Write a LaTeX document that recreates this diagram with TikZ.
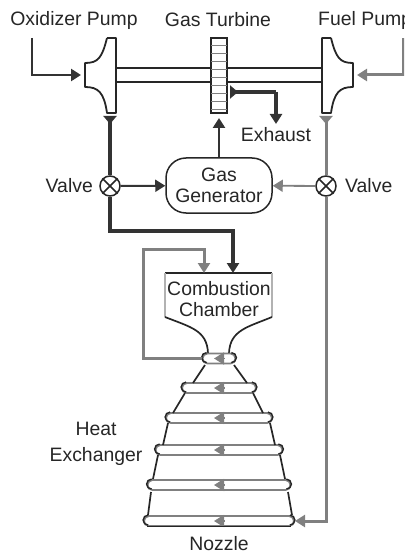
\documentclass[tikz,border=0pt]{standalone}
\usepackage{fontspec}
\setmainfont{Liberation Sans}
\usetikzlibrary{arrows.meta, positioning, shapes.misc}

\definecolor{oxline}{gray}{0.2}
\definecolor{fuelline}{gray}{0.5}

\begin{document}
\begin{tikzpicture}[
  x=1pt, y=-1pt,
  label/.style    = {inner sep=0pt, font=\fontsize{19.4}{21}\selectfont, align=center, text=black!85},
  pumpline/.style = {draw=black!85, line width=1.8pt, line join=round},
  genbox/.style   = {rectangle, rounded corners=20pt, draw=black!85, line width=1.5pt,
                     minimum width=106pt, minimum height=55pt, inner sep=0pt},
  valve/.style    = {circle, draw=black!85, line width=1.5pt, minimum size=20pt, inner sep=0pt},
  ring/.style     = {rectangle, rounded corners=5pt, draw=fuelline, line width=1.8pt,
                     minimum height=10pt, inner sep=0pt},
  wall/.style     = {draw=black!85, line width=1.7pt, line join=round},
  oxarr/.style    = {-{Triangle[length=10pt,width=12pt]}, line width=3.4pt, oxline},
  oxthin/.style   = {-{Triangle[length=10pt,width=12pt]}, line width=2pt, oxline},
  fuelarr/.style  = {-{Triangle[length=10pt,width=12pt]}, line width=3pt, fuelline},
  fuelthin/.style = {-{Triangle[length=10pt,width=12pt]}, line width=1.8pt, fuelline},
  revox/.style    = {-{Triangle[length=8pt,width=13pt,reversed]}, line width=3.4pt, oxline},
  revfuel/.style  = {-{Triangle[length=8pt,width=13pt,reversed]}, line width=3pt, fuelline},
]
\clip (0,0) rectangle (404,553);

%% ── Pumps and turbine ─────────────────────────────────────────────
\draw[pumpline] (107,38) -- (116,38) -- (116,113) -- (107,113)
  .. controls (104,92) and (98,87) .. (85,87) -- (85,63)
  .. controls (98,63) and (102,58) .. (107,38);
\draw[pumpline] (331,38) -- (322,38) -- (322,113) -- (331,113)
  .. controls (334,92) and (340,87) .. (353,87) -- (353,63)
  .. controls (340,63) and (336,58) .. (331,38);
\coordinate (oxin) at (81,75);
\coordinate (oxout) at (110,116);
\coordinate (fuelin) at (357,75);
\coordinate (fuelout) at (326,116);

\node[draw=black!85, line width=1.8pt, minimum width=16pt, minimum height=75pt, inner sep=0pt]
  (turbine) at (219,75.5) {};
\foreach \yy in {46,54,...,110}
  \draw[fuelline, line width=1pt] (211,\yy) -- (227,\yy);
\draw[pumpline] (116,68) -- (211,68) (227,68) -- (322,68);
\draw[pumpline] (116,82) -- (211,82) (227,82) -- (322,82);

%% ── Labels ────────────────────────────────────────────────────────
\node[label] (oxlabel) at (74,20) {Oxidizer Pump};
\node[label] (turblabel) at (218,20) {Gas Turbine};
\node[label, anchor=west] (fuellabel) at (318,20) {Fuel Pump};
\node[label] (exhaust) at (276,135) {Exhaust};
\node[label, anchor=east] (oxvalvelabel) at (93,186) {Valve};
\node[label, anchor=west] (fuelvalvelabel) at (345,186) {Valve};
\node[label] (heat) at (96,443.5) {Heat\\[5pt]Exchanger};
\node[label] (nozzlelabel) at (219,544) {Nozzle};

%% ── Generator and valves ──────────────────────────────────────────
\node[genbox, label] (gen) at (219,185.5) {Gas\\Generator};
\node[valve] (oxvalve) at (110,186) {};
\node[valve] (fuelvalve) at (326,186) {};
\draw[pumpline, line width=1.5pt] (oxvalve.north west) -- (oxvalve.south east)
  (oxvalve.north east) -- (oxvalve.south west);
\draw[pumpline, line width=1.5pt] (fuelvalve.north west) -- (fuelvalve.south east)
  (fuelvalve.north east) -- (fuelvalve.south west);

%% ── Combustion chamber ────────────────────────────────────────────
\node[label] (chamber) at (219,299) {Combustion\\Chamber};
\draw[pumpline] (165,273) -- (272,273);
\draw[fuelline!60, line width=1.2pt] (165,273) -- (165,317) (272,273) -- (272,317);
\draw[wall] (165,317) .. controls (190,327) and (207,330) .. (208,353);
\draw[wall] (272,317) .. controls (248,327) and (230,330) .. (229,353);

%% ── Nozzle rings ──────────────────────────────────────────────────
\foreach \i/\yy/\ww in {1/358.5/33, 2/388/74, 3/418/106, 4/450/127, 5/485/143, 6/521/150} {
  \node[ring, minimum width=\ww pt] (ring\i) at (219,\yy) {};
  \draw[wall, line width=1.4pt] ([xshift=5pt]ring\i.north west) arc[start angle=90, end angle=270, radius=5pt];
  \draw[wall, line width=1.4pt] ([xshift=-5pt]ring\i.north east) arc[start angle=90, end angle=-90, radius=5pt];
}
\foreach \i in {1,...,6}
  \draw[fuelthin] ([xshift=5pt]ring\i.center) -- ([xshift=-5pt]ring\i.center);
\draw[wall] (205,365) -- (193,383) (234,365) -- (247,383);
\draw[wall] (185,393) -- (173,413) (253,393) -- (263,413);
\draw[wall] (168,423) -- (163,445) (270,423) -- (275,445);
\draw[wall] (158,455) -- (153,479) (280,455) -- (285,479);
\draw[wall] (151,492) -- (148,515) (288,492) -- (292,515);
\draw[wall] (147,526.5) -- (291,526.5);

%% ── Connectors ────────────────────────────────────────────────────
\draw[oxarr, line width=2.6pt] (32,38) |- (oxin);
\draw[fuelarr] (403,38) |- (fuelin);
\draw[revox] (oxvalve) -- (oxout);
\draw[revfuel] (fuelvalve) -- (fuelout);
\draw[oxthin] (oxvalve) -- (gen);
\draw[fuelthin] (fuelvalve) -- (gen);
\draw[oxarr, line width=2.8pt] (gen) -- (219,118);
\draw[revox] (276,92) -- (230,92);
\draw[oxarr] (276,92) -- (276,124);
\draw[oxarr] (oxvalve.south) |- (233,231) -- (233,273);
\draw[fuelarr] (ring1.west) -| (143,249) -| (204,273);
\draw[fuelarr] (fuelvalve.south) |- (295,521);
\end{tikzpicture}
\end{document}
